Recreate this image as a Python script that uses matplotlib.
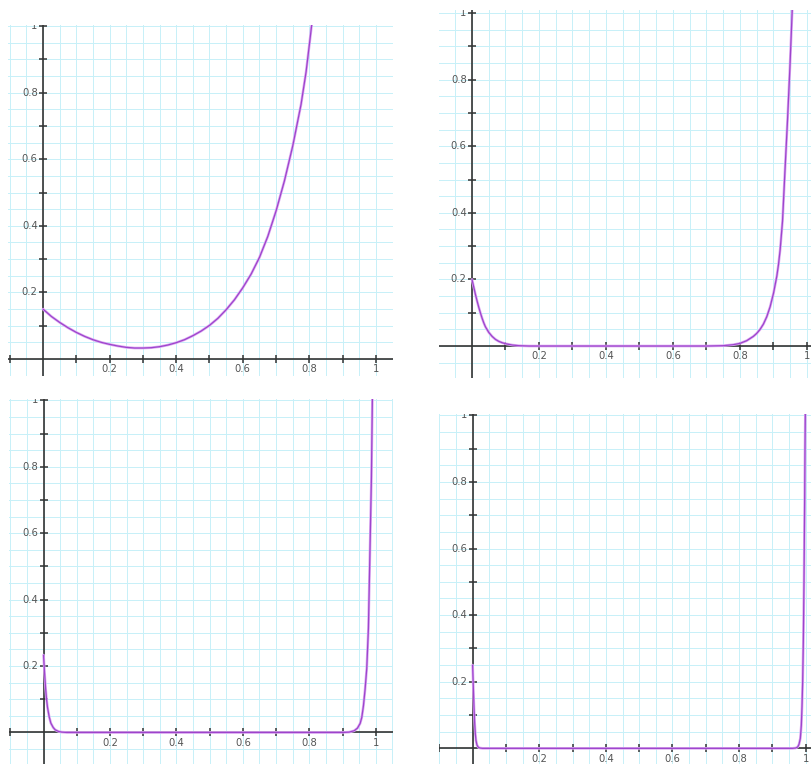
import numpy as np
import matplotlib
matplotlib.use('Agg')
import matplotlib.pyplot as plt
import matplotlib.transforms as mtransforms

# curve points
p1_x = [0.00, 0.025, 0.05, 0.075, 0.10, 0.125, 0.15, 0.175, 0.20, 0.225, 0.25, 0.275,
        0.30, 0.325, 0.35, 0.375, 0.40, 0.425, 0.45, 0.475, 0.50, 0.525, 0.55, 0.575,
        0.60, 0.625, 0.65, 0.675, 0.70, 0.725, 0.75, 0.775, 0.79, 0.80, 0.81]
p1_y = [0.150, 0.128, 0.110, 0.094, 0.080, 0.068, 0.058, 0.050, 0.044, 0.039, 0.035, 0.033,
        0.033, 0.034, 0.037, 0.042, 0.049, 0.058, 0.070, 0.084, 0.101, 0.122, 0.148, 0.178,
        0.214, 0.255, 0.305, 0.368, 0.445, 0.535, 0.640, 0.765, 0.862, 0.945, 1.030]

p2_x = [0.000, 0.005, 0.010, 0.015, 0.020, 0.025, 0.030, 0.035, 0.040, 0.050, 0.060, 0.070,
        0.080, 0.090, 0.100, 0.120, 0.140, 0.170, 0.700, 0.750, 0.780, 0.800, 0.820, 0.840,
        0.850, 0.860, 0.870, 0.880, 0.890, 0.900, 0.910, 0.915, 0.920, 0.927, 0.934, 0.942,
        0.949, 0.956]
p2_y = [0.200, 0.178, 0.156, 0.136, 0.117, 0.100, 0.084, 0.070, 0.058, 0.041, 0.029, 0.020,
        0.014, 0.010, 0.007, 0.003, 0.001, 0.000, 0.000, 0.001, 0.004, 0.008, 0.016, 0.029,
        0.038, 0.050, 0.066, 0.088, 0.118, 0.158, 0.210, 0.245, 0.290, 0.375, 0.520, 0.680,
        0.835, 1.010]

p3_x = [0.000, 0.003, 0.006, 0.009, 0.012, 0.017, 0.022, 0.029, 0.035, 0.045, 0.055, 0.070,
        0.900, 0.920, 0.935, 0.945, 0.953, 0.958, 0.963, 0.968, 0.973, 0.978, 0.981, 0.984,
        0.987, 0.990]
p3_y = [0.233, 0.180, 0.135, 0.100, 0.075, 0.047, 0.028, 0.015, 0.008, 0.003, 0.001, 0.000,
        0.000, 0.001, 0.005, 0.013, 0.027, 0.045, 0.080, 0.130, 0.193, 0.313, 0.464, 0.614,
        0.765, 1.010]

p4_x = [0.000, 0.002, 0.004, 0.006, 0.008, 0.010, 0.013, 0.017, 0.022, 0.030,
        0.960, 0.970, 0.976, 0.980, 0.984, 0.987, 0.989, 0.991, 0.993, 0.995, 0.997,
        0.998, 0.999]
p4_y = [0.250, 0.185, 0.125, 0.078, 0.045, 0.024, 0.010, 0.003, 0.001, 0.000,
        0.000, 0.001, 0.004, 0.012, 0.030, 0.070, 0.125, 0.200, 0.320, 0.500, 0.750,
        0.900, 1.010]

tick_vals = [-0.1, 0.1, 0.2, 0.3, 0.4, 0.5, 0.6, 0.7, 0.8, 0.9, 1.0]
label_vals = [0.2, 0.4, 0.6, 0.8, 1.0]
label_text = ['0.2', '0.4', '0.6', '0.8', '1']

W, H = 812, 764
fig = plt.figure(figsize=(W / 100, H / 100), dpi=100)
fig.patch.set_facecolor('white')

grid_col = '#c8f0f8'
axis_col = '#333333'
text_col = '#555555'


def draw_panel(px_box, xlim, ylim, xs, ys):
    left, top, right, bottom = px_box
    ax = fig.add_axes([left / W, 1 - bottom / H, (right - left) / W, (bottom - top) / H])
    for s in ax.spines.values():
        s.set_visible(False)

    # fine grid every 0.05
    g = np.round(np.arange(-0.15, 1.1, 0.05), 2)
    ax.set_xticks(g)
    ax.set_yticks(g)
    ax.set_xlim(*xlim)
    ax.set_ylim(*ylim)
    ax.tick_params(length=0, labelbottom=False, labelleft=False)
    ax.grid(True, color=grid_col, lw=0.72, snap=True)
    ax.set_axisbelow(True)

    # axes through the origin
    ax.axhline(0, color=axis_col, lw=1.2, zorder=2)
    ax.axvline(0, color=axis_col, lw=1.2, zorder=2)
    ax.plot(tick_vals, [0] * len(tick_vals), ls='none', marker='|', ms=6,
            mew=1.1, color=axis_col, zorder=2, clip_on=True)
    yt = [v for v in tick_vals if v > 0]
    ax.plot([0] * len(yt), yt, ls='none', marker='_', ms=6,
            mew=1.1, color=axis_col, zorder=2, clip_on=True)

    below = mtransforms.offset_copy(ax.transData, fig=fig, x=0, y=-7.5, units='points')
    leftof = mtransforms.offset_copy(ax.transData, fig=fig, x=-3.8, y=0, units='points')
    for v, t in zip(label_vals, label_text):
        ax.text(v, 0, t, transform=below, ha='center', va='center', fontsize=7.2,
                color=text_col, clip_on=True)
        ax.text(0, v, t, transform=leftof, ha='right', va='center', fontsize=7.2,
                color=text_col, clip_on=True)

    ax.plot(xs, ys, color='#dcaaf2', lw=1.9, zorder=3, solid_capstyle='round')
    ax.plot(xs, ys, color='#9d44cc', lw=0.9, zorder=4, solid_capstyle='round')
    return ax


draw_panel((8, 25, 393, 376), (-0.105, 1.051), (-0.051, 1.003), p1_x, p1_y)
draw_panel((439, 10, 812, 378), (-0.0985, 1.015), (-0.096, 1.009), p2_x, p2_y)
draw_panel((9, 399, 393, 764), (-0.104, 1.052), (-0.095, 1.004), p3_x, p3_y)
draw_panel((439, 414, 812, 764), (-0.101, 1.019), (-0.047, 1.004), p4_x, p4_y)

fig.savefig('out.png', dpi=100, facecolor='white')
